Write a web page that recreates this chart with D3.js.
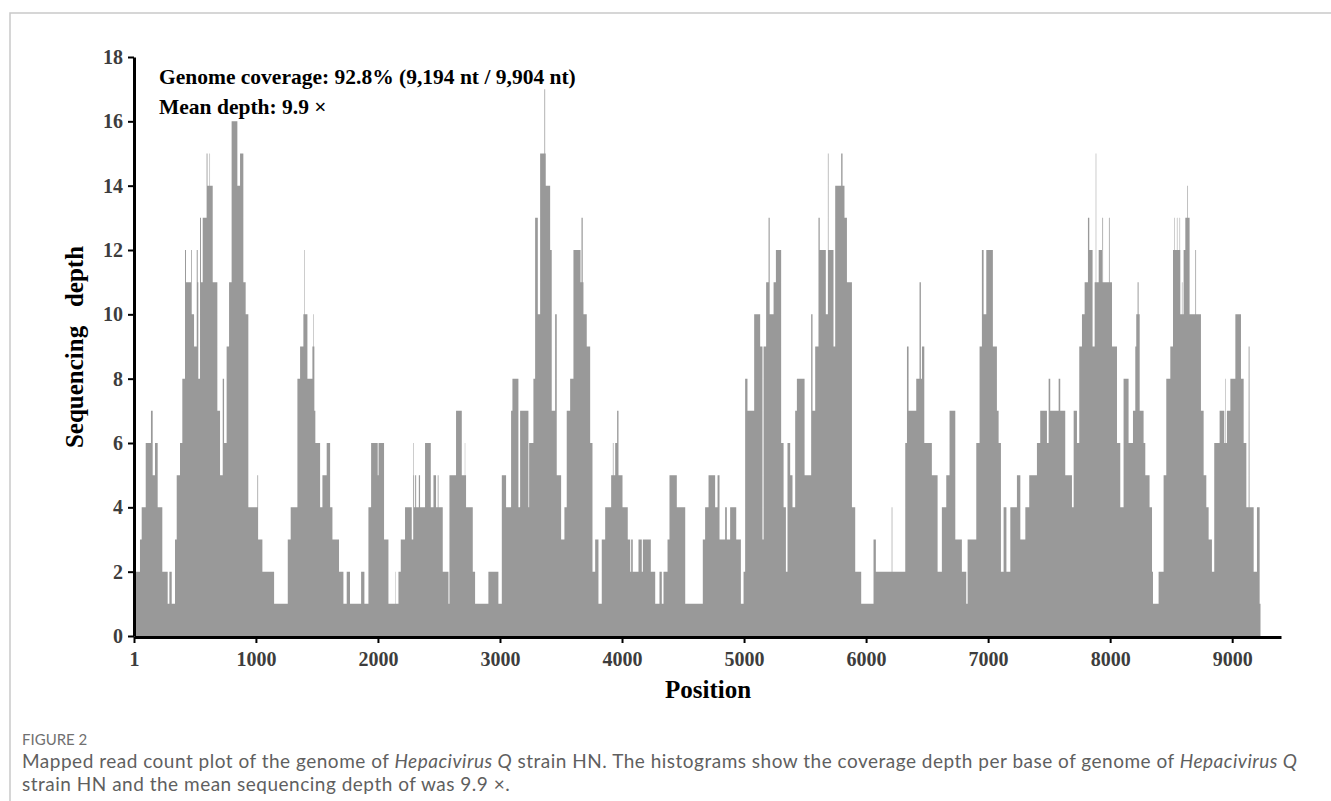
<!DOCTYPE html>
<html>
<head>
<meta charset="utf-8">
<script src="https://cdn.jsdelivr.net/npm/d3@7"></script>
<style>
  body { margin: 0; background: #fff; }
  svg { display: block; }
</style>
</head>
<body>
<svg id="chart" width="1331" height="801"></svg>
<script>
// 各区間の開始位置 (nt) とその区間の深さ
var positions = [
  17,50,64,97,140,154,173,195,233,277,291,310,337,351,378,397,419,427,468,474,
  493,515,523,528,542,550,564,596,603,620,624,646,684,706,728,739,760,780,801,848,
  870,897,916,938,1012,1018,
  1053,1149,1261,1285,1340,1362,1389,1395,1399,1422,1463,1472,1476,1479,1487,1526,1545,1580,1608,1627,
  1681,1717,1744,1771,1862,1889,1922,1944,1998,2005,
  2050,2086,2140,2143,2168,2187,2222,2277,2289,2293,2296,2305,2313,2335,2345,2386,2433,2455,2476,2490,
  2496,2531,2578,2586,2640,2687,2712,2715,2722,2777,2796,2905,2987,3015,3042,
  3050,3091,3102,3151,3165,3233,3239,3274,3288,3310,3329,3364,3370,3375,3411,3424,3452,3465,3501,3528,
  3547,3575,3602,3660,3668,3678,3684,3711,3739,3758,3780,3807,3834,3862,3911,3925,3930,3944,3960,3971,
  4004,4047,4067,4075,4088,
  4135,4162,4171,4236,4272,4307,4326,4340,4373,4389,4449,4518,4662,4681,4709,4763,4783,4799,4845,4859,
  4886,4936,4974,4996,5009,5028,5083,
  5132,5151,5160,5181,5201,5210,5242,5261,5304,5324,5343,5356,5378,5397,5419,5433,5496,5550,5561,5583,
  5610,5620,5670,5687,5692,5733,5747,5796,5807,5823,5843,5884,5911,5960,6061,6080,
  6210,6215,6321,6335,6348,6411,6438,6449,6458,6477,6539,6586,6621,6657,6684,6731,6785,6821,6832,6903,
  6930,6949,6963,6985,7039,7072,7086,7105,7127,7150,
  7182,7236,7264,7305,7337,7400,7427,7482,7496,7509,7578,7591,7632,7687,7701,7728,7747,7769,7791,7818,
  7829,7856,7873,7882,7886,7906,7933,7936,7942,7990,7996,8015,8056,8083,8110,8151,
  8187,8206,8214,8225,8233,8242,8274,8288,8323,8343,8351,8397,8438,8460,8493,8515,8526,8530,8547,8551,
  8569,8573,8575,8588,8592,8602,8616,8633,8638,8651,8698,8704,8744,8766,8788,8807,8834,8853,8897,8935,
  8944,8948,8957,8985,9026,9072,9094,9116,9135,9142,9176,9203,9225,9232
];
var depths = [
  2,3,4,6,7,5,6,4,2,1,2,1,3,5,6,8,12,11,12,10,
  9,12,11,8,13,11,13,15,14,15,14,11,7,5,8,6,9,11,16,14,
  15,11,10,4,5,3,
  2,1,3,4,8,9,10,12,10,8,9,10,9,7,6,4,5,6,4,3,
  2,1,2,1,2,1,4,6,5,6,
  3,1,2,1,2,3,4,3,6,5,4,5,4,5,4,6,4,5,4,5,
  4,2,1,5,7,5,6,5,4,2,1,2,1,5,5,
  4,7,8,4,7,4,6,8,13,10,15,17,15,14,12,7,10,5,3,4,
  7,8,12,11,13,11,10,9,6,2,3,1,3,4,5,6,5,6,7,5,
  4,3,2,3,2,
  3,2,3,2,1,2,1,2,3,5,4,1,3,4,5,4,5,3,4,3,
  4,3,1,2,8,7,10,
  9,3,9,11,13,10,11,12,6,4,2,6,5,4,7,8,5,10,7,9,
  13,12,10,15,12,9,14,15,14,13,11,4,2,1,3,2,
  4,2,6,9,7,8,11,8,9,6,5,2,4,5,7,3,2,1,3,6,
  9,12,10,12,9,7,6,2,4,2,
  4,5,3,4,5,6,7,6,8,7,8,7,5,4,7,6,9,10,11,13,
  12,9,11,15,11,12,11,13,11,13,11,9,6,4,8,6,
  7,9,10,11,10,7,6,5,4,2,1,2,5,8,9,12,13,12,13,12,
  13,12,10,11,10,12,13,14,13,10,12,10,7,5,4,3,2,6,7,6,
  8,6,7,8,10,8,6,4,9,4,2,4,1,0
];

// 軸の目盛り
var xTicks = [1, 1000, 2000, 3000, 4000, 5000, 6000, 7000, 8000, 9000];
var yTicks = [0, 2, 4, 6, 8, 10, 12, 14, 16, 18];

var svg = d3.select('#chart');

// 外枠 (上と左の細線)
svg.append('path')
  .attr('d', 'M10,801 L10,13 L1331,13')
  .attr('fill', 'none')
  .attr('stroke', '#c9c9c9')
  .attr('stroke-width', 1.5);

var x = d3.scaleLinear().domain([1, 9400]).range([134, 1281]);
var y = d3.scaleLinear().domain([0, 18]).range([636, 57]);

var data = positions.map(function(p, i) { return [p, depths[i]]; });

// カバレッジ (階段状のエリア)
var area = d3.area()
  .x(function(d) { return x(d[0]); })
  .y0(y(0))
  .y1(function(d) { return y(d[1]); })
  .curve(d3.curveStepAfter);

svg.append('path')
  .datum(data)
  .attr('d', area)
  .attr('fill', '#999999');

var serif = '"Liberation Serif", "Times New Roman", serif';

// Y軸
var yAxis = svg.append('g')
  .attr('transform', 'translate(134,0)')
  .call(d3.axisLeft(y).tickValues(yTicks).tickSize(6).tickSizeOuter(0).tickPadding(5));
yAxis.select('.domain').attr('stroke', '#000').attr('stroke-width', 3);
yAxis.selectAll('.tick line').attr('stroke', '#000').attr('stroke-width', 2);
yAxis.selectAll('.tick text')
  .attr('font-family', serif)
  .attr('font-weight', 'bold')
  .attr('font-size', 20)
  .attr('fill', '#3d3d3d');

// X軸
var xAxis = svg.append('g')
  .attr('transform', 'translate(0,637)')
  .call(d3.axisBottom(x).tickValues(xTicks).tickFormat(d3.format('d')).tickSize(6).tickSizeOuter(0).tickPadding(9));
xAxis.select('.domain').attr('stroke', '#000').attr('stroke-width', 3);
xAxis.selectAll('.tick line').attr('stroke', '#000').attr('stroke-width', 2);
xAxis.selectAll('.tick text')
  .attr('font-family', serif)
  .attr('font-weight', 'bold')
  .attr('font-size', 20)
  .attr('fill', '#3d3d3d');

// 軸タイトル
svg.append('text')
  .attr('x', 708).attr('y', 698)
  .attr('text-anchor', 'middle')
  .attr('font-family', serif).attr('font-weight', 'bold').attr('font-size', 25)
  .text('Position');

svg.append('text')
  .attr('transform', 'translate(83,347) rotate(-90)')
  .attr('text-anchor', 'middle')
  .attr('font-family', serif).attr('font-weight', 'bold').attr('font-size', 25)
  .style('white-space', 'pre')
  .text('Sequencing   depth');

// 注記
svg.append('text')
  .attr('x', 159).attr('y', 84)
  .attr('font-family', serif).attr('font-weight', 'bold').attr('font-size', 21.5)
  .text('Genome coverage: 92.8% (9,194 nt / 9,904 nt)');
svg.append('text')
  .attr('x', 159).attr('y', 114)
  .attr('font-family', serif).attr('font-weight', 'bold').attr('font-size', 21.5)
  .text('Mean depth: 9.9 \u00d7');

// キャプション
var sans = 'Lato, "Open Sans", sans-serif';
svg.append('text')
  .attr('x', 22).attr('y', 745)
  .attr('font-family', sans).attr('font-size', 15).attr('fill', '#707070')
  .text('FIGURE 2');

var line1 = svg.append('text')
  .attr('x', 22).attr('y', 768)
  .attr('font-family', sans).attr('font-size', 19).attr('letter-spacing', 0.5)
  .attr('fill', '#5f5f5f');
line1.append('tspan').text('Mapped read count plot of the genome of ');
line1.append('tspan').attr('font-style', 'italic').text('Hepacivirus Q');
line1.append('tspan').text(' strain HN. The histograms show the coverage depth per base of genome of ');
line1.append('tspan').attr('font-style', 'italic').text('Hepacivirus Q');

svg.append('text')
  .attr('x', 22).attr('y', 791)
  .attr('font-family', sans).attr('font-size', 19).attr('letter-spacing', 0.5)
  .attr('fill', '#5f5f5f')
  .text('strain HN and the mean sequencing depth of was 9.9 \u00d7.');
</script>
</body>
</html>
